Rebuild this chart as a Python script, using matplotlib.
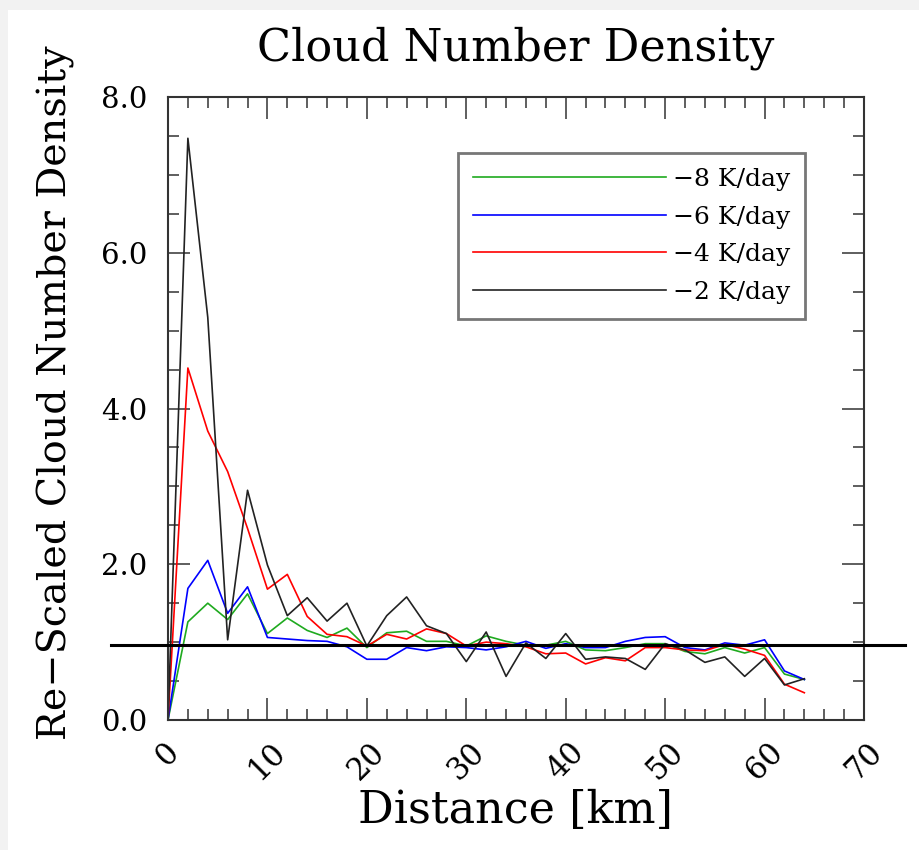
import matplotlib
matplotlib.use('Agg')
import matplotlib.pyplot as plt
from matplotlib.patches import Rectangle
import numpy as np

# distance [km]
distance = np.arange(0, 65, 2)

dens_m8 = [0.0, 1.26, 1.50, 1.29, 1.62, 1.11, 1.31, 1.15, 1.06, 1.18, 0.93, 1.12, 1.14,
           1.01, 1.01, 0.95, 1.08, 1.01, 0.96, 0.96, 1.01, 0.90, 0.89, 0.93, 0.98, 0.98,
           0.88, 0.85, 0.93, 0.86, 0.93, 0.59, 0.52]
dens_m6 = [0.0, 1.69, 2.05, 1.37, 1.71, 1.06, 1.04, 1.02, 1.01, 0.94, 0.78, 0.78, 0.93,
           0.89, 0.94, 0.93, 0.90, 0.94, 1.01, 0.92, 0.98, 0.93, 0.93, 1.01, 1.06, 1.07,
           0.93, 0.90, 0.99, 0.96, 1.03, 0.63, 0.52]
dens_m4 = [0.0, 4.52, 3.71, 3.19, 2.46, 1.68, 1.87, 1.33, 1.10, 1.07, 0.95, 1.10, 1.04,
           1.17, 1.11, 0.95, 1.00, 0.98, 0.94, 0.85, 0.86, 0.72, 0.80, 0.76, 0.93, 0.93,
           0.90, 0.89, 0.97, 0.91, 0.83, 0.46, 0.35]
dens_m2 = [0.0, 7.47, 5.17, 1.03, 2.95, 1.99, 1.34, 1.57, 1.27, 1.50, 0.95, 1.34, 1.58,
           1.21, 1.11, 0.75, 1.13, 0.56, 0.99, 0.79, 1.11, 0.78, 0.81, 0.79, 0.65, 0.98,
           0.90, 0.74, 0.81, 0.56, 0.79, 0.45, 0.53]

labels = ['\u22128 K/day', '\u22126 K/day', '\u22124 K/day', '\u22122 K/day']
colors = ['#1faa1f', '#0000ff', '#ff0000', '#222222']
ref_level = 0.96
ref_span = [-5.7, 74.1]

plt.rcParams['font.family'] = ['DejaVu Serif']

fig = plt.figure(figsize=(9.2, 8.5), dpi=100, facecolor='#f2f2f2')
fig.patches.append(Rectangle((8 / 920, 0), 1, 1 - 10 / 850, transform=fig.transFigure,
                             facecolor='white', edgecolor='none', zorder=-10))
ax = fig.add_axes([168 / 920, 1 - 720 / 850, 696 / 920, 623 / 850])

for y, lab, c in zip([dens_m8, dens_m6, dens_m4, dens_m2], labels, colors):
    ax.plot(distance, y, color=c, lw=1.2, label=lab)

ax.plot(ref_span, [ref_level, ref_level], color='black', lw=2.2, clip_on=False, zorder=5)

ax.set_xlim(0, 70)
ax.set_ylim(0, 8)
ax.set_xticks(np.arange(0, 71, 10))
ax.set_xticks(np.arange(0, 71, 2), minor=True)
ax.set_yticks(np.arange(0, 8.1, 2))
ax.set_yticks(np.arange(0, 8.1, 0.5), minor=True)
ax.set_yticklabels([f'{v:.1f}' for v in np.arange(0, 8.1, 2)])
ax.tick_params(which='both', direction='in', top=True, right=True, width=1.1, color='#333333')
ax.tick_params(which='major', length=16)
ax.tick_params(which='minor', length=8)
ax.tick_params(axis='y', labelsize=21, pad=15)
ax.tick_params(axis='x', labelsize=22, pad=12)
for t in ax.get_xticklabels():
    t.set_rotation(45)
    t.set_ha('center')
    t.set_va('top')
for s in ax.spines.values():
    s.set_linewidth(1.5)
    s.set_color('#333333')

ax.set_title('Cloud Number Density', fontsize=32, pad=26)
ax.set_xlabel('Distance [km]', fontsize=32, labelpad=2)
ax.set_ylabel('Re\u2212Scaled Cloud Number Density', fontsize=28.5)
ax.yaxis.set_label_coords(-0.134, 0.526)

leg = ax.legend(loc='upper left', bbox_to_anchor=(0.417, 0.910), borderaxespad=0,
                fontsize=18, handlelength=7.7, handletextpad=0.3, labelspacing=0.58,
                borderpad=0.6, fancybox=False, framealpha=1)
leg.get_frame().set_edgecolor('#777777')
leg.get_frame().set_linewidth(2)

fig.savefig('out.png', dpi=100, facecolor=fig.get_facecolor())
